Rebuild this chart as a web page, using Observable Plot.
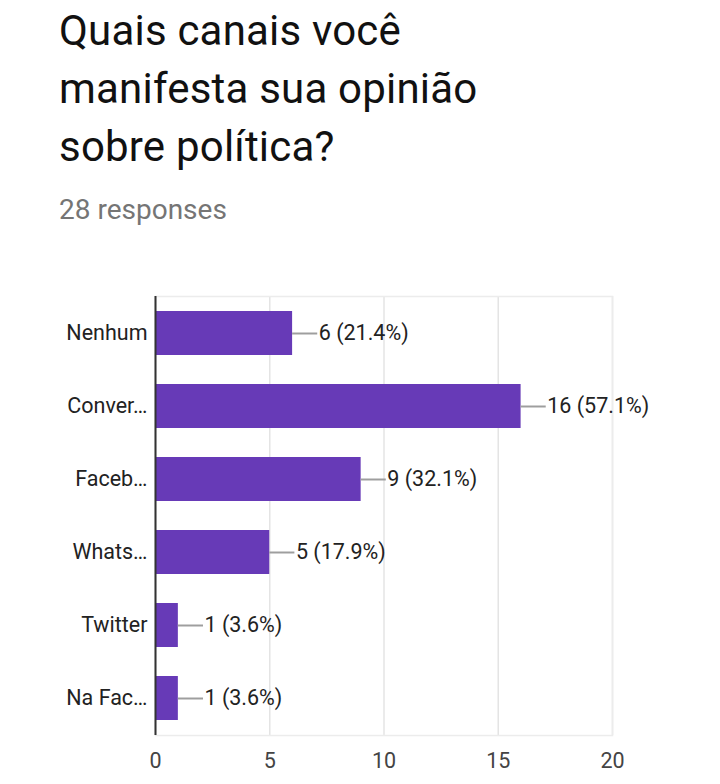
<!DOCTYPE html>
<html>
<head>
<meta charset="utf-8">
<script src="https://cdn.jsdelivr.net/npm/d3@7"></script>
<script src="https://cdn.jsdelivr.net/npm/@observablehq/plot@0.6"></script>
<style>
  html, body { margin: 0; padding: 0; background: #fff; }
  body { width: 720px; height: 784px; position: relative; overflow: hidden; font-family: Roboto, sans-serif; }
  #title { position: absolute; left: 59px; top: 2px; font-size: 42px; line-height: 58px; color: #111; width: 650px; white-space: nowrap; letter-spacing: 0.2px; }
  #subtitle { position: absolute; left: 59px; top: 195px; font-size: 28px; line-height: 30px; color: #757575; }
  #chart { position: absolute; left: 0; top: 280px; }
</style>
</head>
<body>
<div id="title">Quais canais você<br>manifesta sua opinião<br>sobre política?</div>
<div id="subtitle">28 responses</div>
<div id="chart"></div>
<script>
const categories = ["Nenhum", "Conver…", "Faceb…", "Whats…", "Twitter", "Na Fac…"];
const counts = [6, 16, 9, 5, 1, 1];
const totalResponses = 28;
const xTicks = [0, 5, 10, 15, 20];

const data = categories.map((c, i) => ({
  cat: c,
  value: counts[i],
  label: `${counts[i]} (${(counts[i] / totalResponses * 100).toFixed(1)}%)`
}));

const connector = 1.1;

const chart = Plot.plot({
  width: 720,
  height: 504,
  marginLeft: 155,
  marginRight: 108,
  marginTop: 16,
  marginBottom: 49,
  style: { fontFamily: "Roboto, sans-serif", fontSize: "21.5px", color: "#222", background: "#fff" },
  x: { domain: [0, 20], ticks: xTicks, label: null },
  y: { domain: categories, paddingInner: 0.4, paddingOuter: 0.2, label: null },
  marks: [
    Plot.gridX(xTicks, { stroke: "#e4e4e4", strokeOpacity: 1, strokeWidth: 1.5 }),
    Plot.frame({ stroke: "#ececec", strokeWidth: 1.5 }),
    Plot.barX(data, { x: "value", y: "cat", fill: "#673ab7" }),
    Plot.ruleY(data, { y: "cat", x1: "value", x2: d => d.value + connector, stroke: "#9e9e9e", strokeWidth: 2 }),
    Plot.text(data, { y: "cat", x: d => d.value + connector, text: "label", textAnchor: "start", dx: 1, fill: "#222", fontSize: 21.5 }),
    Plot.ruleX([0], { stroke: "#333", strokeWidth: 2 }),
    Plot.axisX({ ticks: xTicks, tickSize: 0, tickPadding: 17, fontSize: 21.5, fill: "#444", label: null }),
    Plot.axisY({ tickSize: 0, tickPadding: 8, fontSize: 21.5, fill: "#222", label: null })
  ]
});
document.getElementById("chart").appendChild(chart);
</script>
</body>
</html>
